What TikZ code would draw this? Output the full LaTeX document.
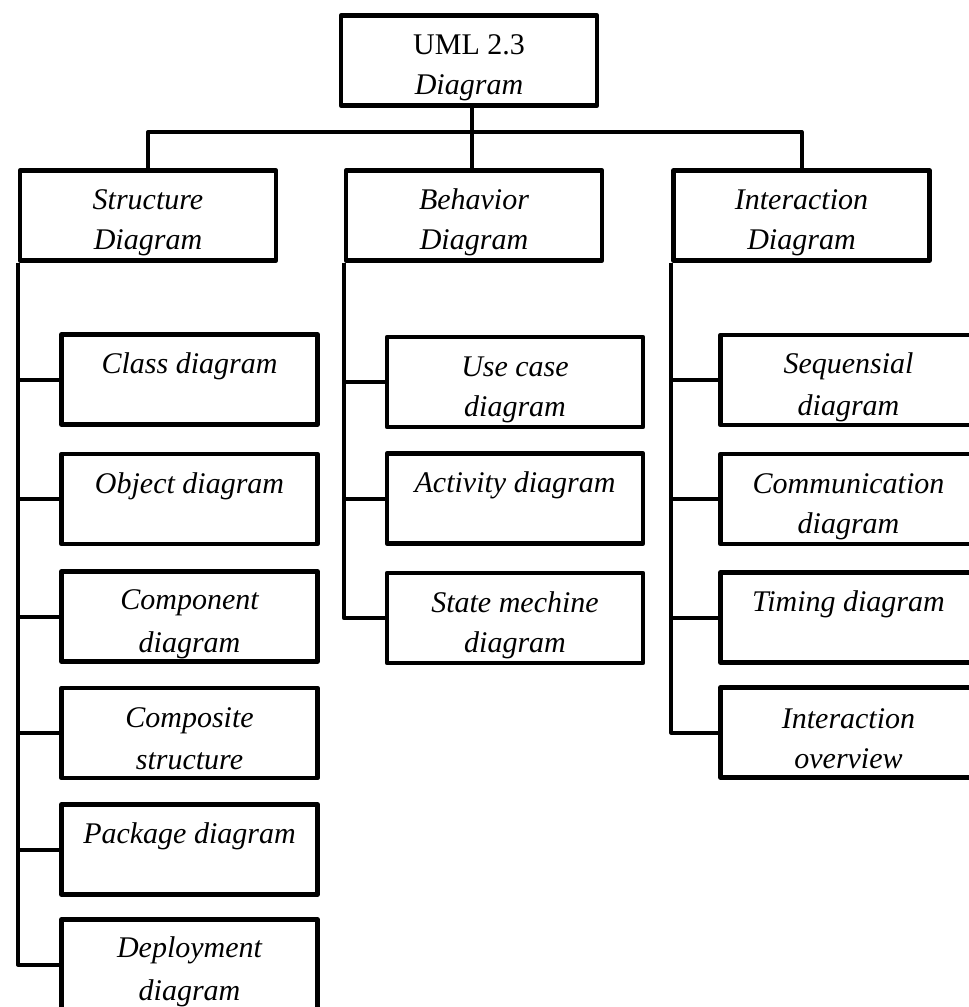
\documentclass[tikz,border=0pt]{standalone}
\usepackage{fontspec}
\setmainfont{Liberation Serif}
\newcommand{\rowstrut}{\rule[-4pt]{0pt}{39pt}}
\tikzset{
  umlbox/.style={draw, line width=4.6pt, line join=round, minimum width=256pt,
    minimum height=90pt, inner sep=2pt, align=center,
    font=\fontsize{30}{40}\selectfont\itshape},
  link/.style={line width=4pt, line join=round}
}
\begin{document}
\begin{tikzpicture}[x=1pt,y=-1pt]
\useasboundingbox (0,0) rectangle (969,1007);
\clip (0,0) rectangle (969,1007);
% top and second level
\node[umlbox] (uml) at (469,60.5) {\rowstrut\textup{UML 2.3}\\\rowstrut Diagram};
\node[umlbox] (struct) at (148,215.5) {\rowstrut Structure\\\rowstrut Diagram};
\node[umlbox] (behav) at (474,215.5) {\rowstrut Behavior\\\rowstrut Diagram};
\node[umlbox] (inter) at (801.5,215.5) {\rowstrut Interaction\\\rowstrut Diagram};
\coordinate (bus) at (472,132);
\draw[link] (uml.south -| bus) -- (behav.north -| bus);
\draw[link] (struct.north) |- (bus) -| (inter.north);
% structure diagrams
\node[umlbox] (class) at (189.5,379.5) {\rowstrut Class diagram\\\rowstrut};
\node[umlbox] (object) at (189.5,499) {\rowstrut Object diagram\\\rowstrut};
\node[umlbox] (compon) at (189.5,616.5) {\rowstrut Component\\\rowstrut diagram};
\node[umlbox] (compos) at (189.5,733) {\rowstrut Composite\\\rowstrut structure};
\node[umlbox] (packag) at (189.5,849.5) {\rowstrut Package diagram\\\rowstrut};
\node[umlbox] (deploy) at (189.5,964.5) {\rowstrut Deployment\\\rowstrut diagram};
\draw[link] (struct.south west) |- (deploy.west);
\draw[link] (struct.south west |- class.west) -- (class.west);
\draw[link] (struct.south west |- object.west) -- (object.west);
\draw[link] (struct.south west |- compon.west) -- (compon.west);
\draw[link] (struct.south west |- compos.west) -- (compos.west);
\draw[link] (struct.south west |- packag.west) -- (packag.west);
% behavior diagrams
\node[umlbox] (usecase) at (515,382) {\rowstrut Use case\\\rowstrut diagram};
\node[umlbox] (activ) at (515,498.5) {\rowstrut Activity diagram\\\rowstrut};
\node[umlbox] (statem) at (515,618) {\rowstrut State mechine\\\rowstrut diagram};
\draw[link] (behav.south west) |- (statem.west);
\draw[link] (behav.south west |- usecase.west) -- (usecase.west);
\draw[link] (behav.south west |- activ.west) -- (activ.west);
% interaction diagrams
\node[umlbox] (sequ) at (848.5,380) {\rowstrut Sequensial\\\rowstrut diagram};
\node[umlbox] (comm) at (848.5,499) {\rowstrut Communication\\\rowstrut diagram};
\node[umlbox] (timing) at (848.5,617.5) {\rowstrut Timing diagram\\\rowstrut};
\node[umlbox] (overv) at (848.5,732.5) {\rowstrut Interaction\\\rowstrut overview};
\draw[link] (inter.south west) |- (overv.west);
\draw[link] (inter.south west |- sequ.west) -- (sequ.west);
\draw[link] (inter.south west |- comm.west) -- (comm.west);
\draw[link] (inter.south west |- timing.west) -- (timing.west);
\end{tikzpicture}
\end{document}
